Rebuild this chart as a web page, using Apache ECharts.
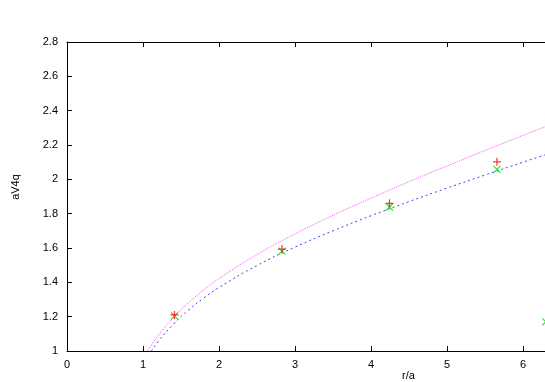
<!DOCTYPE html>
<html>
<head>
<meta charset="utf-8">
<script src="https://cdn.jsdelivr.net/npm/echarts@6/dist/echarts.min.js"></script>
<style>html,body{margin:0;padding:0;background:#fff}#c{width:545px;height:382px}</style>
</head>
<body>
<div id="c"></div>
<script>
// Data
const redX = [1.414, 2.828, 4.243, 5.657];
const redY = [1.210, 1.594, 1.860, 2.102];
const greenX = [1.414, 2.828, 4.243, 5.657, 6.30];
const greenY = [1.205, 1.582, 1.839, 2.058, 1.170];
const magentaX = [1.06, 1.2, 1.4, 1.6, 1.8, 2.0, 2.5, 3.0, 3.5, 4.0, 4.5, 5.0, 5.5, 6.0, 6.5];
const magentaY = [1.000, 1.090, 1.195, 1.282, 1.356, 1.422, 1.562, 1.682, 1.790, 1.890, 1.986, 2.078, 2.168, 2.256, 2.343];
const blueX = [1.11, 1.2, 1.4, 1.6, 1.8, 2.0, 2.5, 3.0, 3.5, 4.0, 4.5, 5.0, 5.5, 6.0, 6.5];
const blueY = [1.000, 1.055, 1.156, 1.239, 1.309, 1.370, 1.498, 1.605, 1.700, 1.788, 1.870, 1.949, 2.025, 2.100, 2.173];
const xTitle = 'r/a';
const yTitle = 'aV4q';

const zip = (xs, ys) => xs.map((x, i) => [x, ys[i]]);
const font = 'Liberation Sans, Arial, sans-serif';
const chart = echarts.init(document.getElementById('c'), null, {renderer: 'canvas'});
const axisCommon = {
  axisLine: {show: true, lineStyle: {color: '#000', width: 1}},
  axisTick: {show: true, inside: true, length: 5, lineStyle: {color: '#000'}},
  splitLine: {show: false}
};
chart.setOption({
  animation: false,
  backgroundColor: '#fff',
  grid: {left: 67, top: 42, width: 532, height: 309, containLabel: false, outerBoundsMode: 'none'},
  xAxis: [
    Object.assign({type: 'value', min: 0, max: 7, interval: 1, position: 'bottom',
      axisLabel: {color: '#000', fontFamily: font, fontSize: 11, margin: 8}}, axisCommon),
    Object.assign({type: 'value', min: 0, max: 7, interval: 1, position: 'top',
      axisLabel: {show: false}}, axisCommon)
  ],
  yAxis: [
    Object.assign({type: 'value', min: 1, max: 2.8, interval: 0.2, position: 'left',
      axisLabel: {color: '#000', fontFamily: font, fontSize: 11, margin: 9,
        formatter: v => String(Math.round(v * 10) / 10)}}, axisCommon)
  ],
  graphic: [
    {type: 'text', left: 402, top: 370, style: {text: xTitle, fill: '#000', font: '11px ' + font}},
    {type: 'text', x: 16, y: 187, rotation: Math.PI / 2, style: {text: yTitle, fill: '#000', font: '11px ' + font, align: 'center', verticalAlign: 'middle'}}
  ],
  series: [
    {type: 'line', data: zip(magentaX, magentaY), smooth: true, showSymbol: false, symbol: 'none',
      lineStyle: {color: '#ff55ff', width: 1, type: [1, 1]}, clip: true, z: 2},
    {type: 'line', data: zip(blueX, blueY), smooth: true, showSymbol: false, symbol: 'none',
      lineStyle: {color: '#4040ff', width: 1, type: [2, 3]}, clip: true, z: 2},
    {type: 'scatter', data: zip(greenX, greenY), symbol: 'path://M0,0 L10,10 M10,0 L0,10', symbolSize: 7,
      itemStyle: {color: 'none', borderColor: '#00dd00', borderWidth: 1.2}, clip: true, z: 3},
    {type: 'scatter', data: zip(redX, redY), symbol: 'path://M5,0 L5,10 M0,5 L10,5', symbolSize: 8,
      itemStyle: {color: 'none', borderColor: '#ff0000', borderWidth: 1.2}, clip: true, z: 4}
  ]
});
</script>
</body>
</html>
